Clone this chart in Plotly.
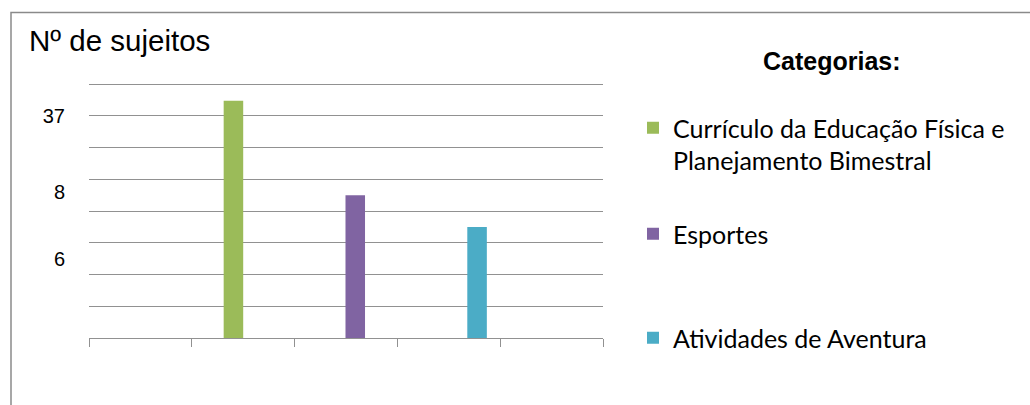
import plotly.graph_objects as go

# Categories (one bar each), in legend order
categories = [
    "Currículo da Educação Física e<br>Planejamento Bimestral",
    "Esportes",
    "Atividades de Aventura",
]
colors = ["#9BBB59", "#8064A2", "#4BACC6"]

# Slot on the x axis where each bar sits and its height on the gridline scale
slots = [1, 2, 3]
heights = [7.47, 4.5, 3.5]

# Left-axis labels and where they sit on the gridline scale
tick_labels = ["37", "8", "6"]
tick_positions = [7.0, 4.6, 2.5]

# Figure geometry (pixels)
W, H = 1030, 405
L, R, T, B = 89, 427, 82, 67
PW, PH = W - L - R, H - T - B
# gridline 8 sits at y=84 px, baseline at y=338 px
Y_TOP = 8 * (H - B - T) / (H - B - 84)


def paper_x(px):
    return (px - L) / PW


def paper_y(py):
    return (H - B - py) / PH


bar_offsets = [-0.19, -0.005, 0.18]
bar_width = 0.19

# each legend entry gets its own legend box, spaced evenly down the right side
legend_ids = ["legend", "legend2", "legend3"]
legend_tops = [105, 211, 315]

fig = go.Figure()
for name, color, s, h, off, lg in zip(categories, colors, slots, heights, bar_offsets, legend_ids):
    fig.add_trace(
        go.Bar(
            x=[s],
            y=[h],
            name=name,
            marker=dict(color=color, line=dict(width=0)),
            width=bar_width,
            offset=off,
            legend=lg,
        )
    )

grid_color = "#919191"

legend_style = dict(
    xref="container",
    yref="container",
    x=633 / W,
    xanchor="left",
    yanchor="top",
    font=dict(family="Lato", size=25, color="#000000"),
    valign="top",
    bgcolor="rgba(0,0,0,0)",
    borderwidth=0,
)
legends = {
    lg: dict(legend_style, y=1 - top / H) for lg, top in zip(legend_ids, legend_tops)
}

fig.update_layout(
    width=W,
    height=H,
    margin=dict(l=L, r=R, t=T, b=B, pad=0),
    paper_bgcolor="white",
    plot_bgcolor="white",
    barmode="overlay",
    showlegend=True,
    title=dict(
        text="Nº de sujeitos",
        font=dict(family="Arial, Liberation Sans", size=29.5, color="#000000"),
        x=29 / W,
        xref="container",
        xanchor="left",
        y=1 - 41 / H,
        yref="container",
        yanchor="middle",
        pad=dict(l=0, r=0, t=0, b=0),
    ),
    xaxis=dict(
        range=[-0.5, 4.5],
        tickmode="array",
        tickvals=[-0.5, 0.5, 1.5, 2.5, 3.5, 4.5],
        showticklabels=False,
        ticks="outside",
        ticklen=8,
        tickwidth=1.4,
        tickcolor=grid_color,
        showline=True,
        linecolor=grid_color,
        linewidth=1.4,
        showgrid=False,
        zeroline=False,
        fixedrange=True,
    ),
    yaxis=dict(
        range=[0, Y_TOP],
        tickmode="array",
        tickvals=tick_positions,
        ticktext=tick_labels,
        ticks="",
        ticklabelstandoff=23,
        tickfont=dict(family="Arial, Liberation Sans", size=20, color="#000000"),
        showgrid=False,
        showline=False,
        zeroline=False,
        minor=dict(
            tickmode="array",
            tickvals=[1, 2, 3, 4, 5, 6, 7, 8],
            showgrid=True,
            gridcolor=grid_color,
            gridwidth=1.4,
            ticks="",
        ),
        fixedrange=True,
    ),
    annotations=[
        dict(
            text="<b>Categorias:</b>",
            xref="paper",
            yref="paper",
            x=paper_x(832),
            y=paper_y(61),
            xanchor="center",
            yanchor="middle",
            showarrow=False,
            font=dict(family="Arial, Liberation Sans", size=25, color="#000000"),
        )
    ],
    shapes=[
        # outer chart frame (runs past the right and bottom edges)
        dict(
            type="rect",
            xref="paper",
            yref="paper",
            x0=paper_x(11),
            y0=paper_y(H + 50),
            x1=paper_x(W + 50),
            y1=paper_y(12.5),
            line=dict(color="#8a8a8a", width=1.5),
            fillcolor="rgba(0,0,0,0)",
            layer="below",
        )
    ],
    **legends,
)

fig.write_html("out.html")
